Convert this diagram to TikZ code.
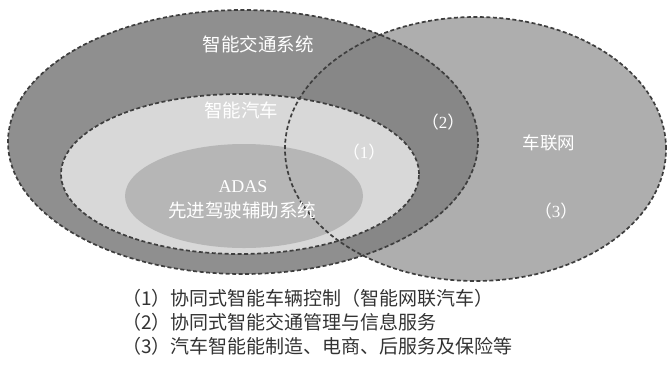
\documentclass[tikz,border=0pt]{standalone}
\usepackage{fontspec}
\setmainfont{Liberation Serif}
\newfontfamily\cjk{Noto Sans CJK SC}
\definecolor{leftgray}{HTML}{8F8F8F}
\definecolor{rightgray}{HTML}{AEAEAE}
\definecolor{overgray}{HTML}{878787}
\definecolor{midgray}{HTML}{D8D8D8}
\definecolor{adasgray}{HTML}{B6B6B6}
\definecolor{dashgray}{HTML}{3E3E3E}
\definecolor{legendtext}{HTML}{333333}
\newcommand{\pnum}[1]{{\cjk （}#1{\cjk ）}}
\tikzset{
  outline/.style={draw=dashgray, line width=1.7pt, dash pattern=on 4pt off 2.5pt},
  intext/.style={text=white, font=\cjk\fontsize{18.5}{20}\selectfont, inner sep=0pt},
  numtext/.style={text=white, font=\fontsize{17}{19}\selectfont, inner sep=0pt},
  legend/.style={text=legendtext, font=\cjk\fontsize{19}{22}\selectfont, anchor=west, inner sep=0pt}
}
\begin{document}
\begin{tikzpicture}[x=1pt, y=-1pt]
\useasboundingbox (0,0) rectangle (668,373);
% fills
\fill[rightgray] (475.5,149) ellipse [x radius=190.5pt, y radius=132pt];
\fill[leftgray] (243,142) ellipse [x radius=235pt, y radius=132pt];
\begin{scope}
  \clip (475.5,149) ellipse [x radius=190.5pt, y radius=132pt];
  \fill[overgray] (243,142) ellipse [x radius=235pt, y radius=132pt];
\end{scope}
\fill[midgray] (240,174) ellipse [x radius=179pt, y radius=80pt];
\fill[adasgray] (244,196) ellipse [x radius=119pt, y radius=52pt];
% outlines
\path[outline] (243,142) ellipse [x radius=235pt, y radius=132pt];
\path[outline] (475.5,149) ellipse [x radius=190.5pt, y radius=132pt];
\path[outline] (240,174) ellipse [x radius=179pt, y radius=80pt];
% labels
\node[intext] (its) at (258,44) {智能交通系统};
\node[intext] (iv) at (241,110) {智能汽车};
\node[numtext, font=\fontsize{18}{20}\selectfont] (adas) at (243,187) {ADAS};
\node[intext] (adascn) at (242,210) {先进驾驶辅助系统};
\node[numtext] (n1) at (364,152) {\pnum{1}};
\node[numtext] (n2) at (443,122) {\pnum{2}};
\node[intext, font=\cjk\fontsize{17.5}{20}\selectfont] (iov) at (549,143) {车联网};
\node[numtext] (n3) at (556,211) {\pnum{3}};
% legend
\node[legend] (l1) at (122,298) {\pnum{1}协同式智能车辆控制{\cjk （}智能网联汽车{\cjk ）}};
\node[legend] (l2) at (122,322) {\pnum{2}协同式智能交通管理与信息服务};
\node[legend] (l3) at (122,346) {\pnum{3}汽车智能能制造、电商、后服务及保险等};
\end{tikzpicture}
\end{document}
